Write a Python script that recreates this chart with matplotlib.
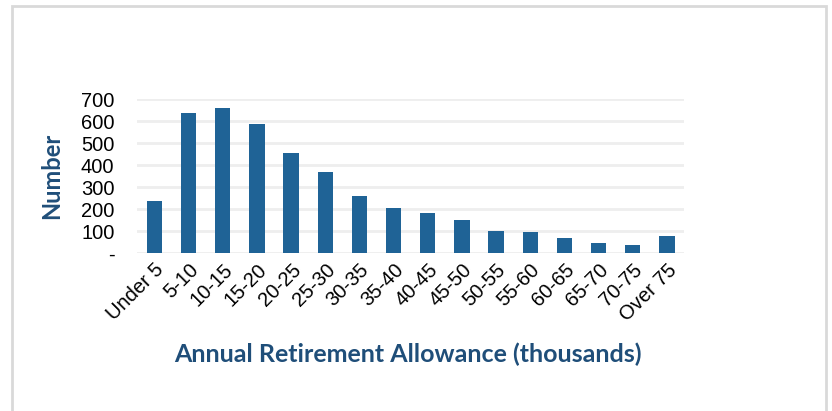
import matplotlib
matplotlib.use('Agg')
import matplotlib.pyplot as plt
from matplotlib.patches import Rectangle
import numpy as np

# Retirement allowance bands and counts
categories = ['Under 5', '5-10', '10-15', '15-20', '20-25', '25-30', '30-35', '35-40',
              '40-45', '45-50', '50-55', '55-60', '60-65', '65-70', '70-75', 'Over 75']
counts = [238, 636, 660, 588, 456, 368, 259, 206, 182, 151, 100, 97, 70, 47, 36, 77]
yticks = [0, 100, 200, 300, 400, 500, 600, 700]
ytick_labels = ['-', '100', '200', '300', '400', '500', '600', '700']

bar_color = '#1f6396'
title_color = '#1f4e79'

fig = plt.figure(figsize=(8.32, 4.11), dpi=100)
ax = fig.add_axes([137.3 / 832, 157.7 / 411, (684 - 137.3) / 832, (253.3 - 99.3) / 411])

x = np.arange(len(categories))
ax.bar(x, counts, width=0.45, color=bar_color, zorder=3)

ax.set_xlim(-0.5, len(categories) - 0.5)
ax.set_ylim(0, 700)
ax.set_yticks(yticks)
ax.set_yticklabels(ytick_labels, fontsize=14.5, family='Liberation Sans')
ax.set_xticks(x)
ax.set_xticklabels(categories, rotation=45, ha='right', rotation_mode='anchor',
                   fontsize=14.5, family='Liberation Sans')
ax.tick_params(axis='both', length=0)
ax.tick_params(axis='y', pad=16.5)
ax.tick_params(axis='x', pad=5)

ax.yaxis.grid(True, color='#eeeeee', linewidth=2, zorder=0)
for s in ax.spines.values():
    s.set_visible(False)

fig.text(52 / 832, 1 - 176 / 411, 'Number', rotation=90, ha='center', va='center',
         fontsize=17, fontweight='bold', color=title_color, family='Lato')
fig.text(408 / 832, 1 - 354 / 411, 'Annual Retirement Allowance (thousands)',
         ha='center', va='center', fontsize=18, fontweight='bold',
         color=title_color, family='Lato')

# light grey frame around the chart area
fig.patches.append(Rectangle((12 / 832, -0.05), 814 / 832, 1.05 - 6 / 411,
                             transform=fig.transFigure, fill=False,
                             edgecolor='#d9d9d9', linewidth=2, clip_on=False))

fig.savefig('out.png', dpi=100)
